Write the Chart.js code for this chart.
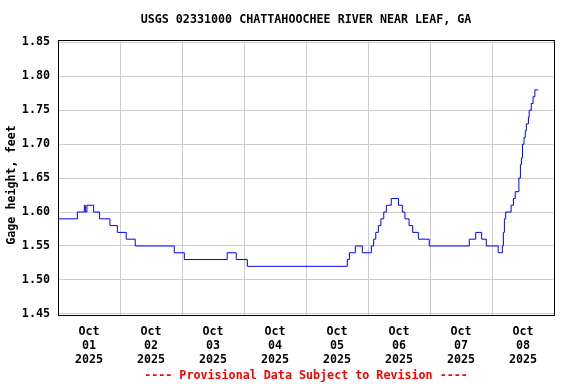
<!DOCTYPE html>
<html lang="en">

<head>
  <meta charset="UTF-8">
  <title>USGS 02331000 Chattahoochee River near Leaf, GA</title>
  <script src="https://cdn.jsdelivr.net/npm/chart.js"></script>
  <style>
    html, body { margin: 0; padding: 0; background: #fff; }
    canvas { display: block; }
  </style>
</head>

<body>
  <canvas id="gageChart" width="576" height="384"></canvas>

  <script>
    // Hours since Oct 01 2025 00:00 where the reading changes, and the new gage height (ft)
    const hours = [
      0, 7.5, 10.2, 10.6, 11.2, 13.8, 16.1, 20.1, 23.0, 26.4,
      29.9, 45.0, 48.9, 65.5, 69.0, 73.3, 112.0, 112.8, 115.1, 117.8,
      121.3, 122.2, 123.0, 124.0, 125.0, 126.1, 127.1, 129.0, 131.8, 133.3,
      134.3, 135.9, 137.3, 139.5, 143.7, 159.2, 161.7, 164.0, 165.8, 170.4,
      172.0, 172.4, 172.8, 173.3, 175.4, 176.3, 177.0, 178.4, 179.0, 179.4,
      179.8, 180.4, 180.9, 181.3, 182.1, 182.4, 183.2, 183.9, 184.6, 185.9
    ];
    const heights = [
      1.59, 1.60, 1.61, 1.60, 1.61, 1.60, 1.59, 1.58, 1.57, 1.56,
      1.55, 1.54, 1.53, 1.54, 1.53, 1.52, 1.53, 1.54, 1.55, 1.54,
      1.55, 1.56, 1.57, 1.58, 1.59, 1.60, 1.61, 1.62, 1.61, 1.60,
      1.59, 1.58, 1.57, 1.56, 1.55, 1.56, 1.57, 1.56, 1.55, 1.54,
      1.55, 1.57, 1.59, 1.60, 1.61, 1.62, 1.63, 1.65, 1.67, 1.68,
      1.70, 1.71, 1.72, 1.73, 1.74, 1.75, 1.76, 1.77, 1.78, 1.78
    ];

    // x tick labels (one per day, centred at noon)
    const monthLabel = 'Oct';
    const dayLabels = ['01', '02', '03', '04', '05', '06', '07', '08'];
    const yearLabel = '2025';

    // y axis ticks
    const yTicks = [1.45, 1.50, 1.55, 1.60, 1.65, 1.70, 1.75, 1.80, 1.85];

    const monoFont = { family: "'DejaVu Sans Mono', monospace", weight: 'bold', size: 11.7, lineHeight: 1.2 };

    // plot frame (all four sides)
    const frame = {
      id: 'frame',
      afterDraw(chart) {
        const a = chart.chartArea;
        const ctx = chart.ctx;
        ctx.save();
        ctx.strokeStyle = '#000';
        ctx.lineWidth = 1;
        ctx.strokeRect(Math.floor(a.left) + 0.5, Math.floor(a.top) + 0.5,
          Math.floor(a.right) - Math.floor(a.left), Math.floor(a.bottom) - Math.floor(a.top));
        ctx.restore();
      }
    };

    new Chart(document.getElementById('gageChart'), {
      type: 'line',
      data: {
        datasets: [{
          label: 'Gage height',
          data: hours.map((h, i) => ({ x: h, y: heights[i] })),
          borderColor: '#0000ff',
          borderWidth: 1,
          pointRadius: 0,
          stepped: 'before',
          fill: false
        }]
      },
      options: {
        responsive: false,
        animation: false,
        devicePixelRatio: 1,
        layout: { padding: { left: 0, right: 22, top: 0, bottom: 0 } },
        plugins: {
          legend: { display: false },
          tooltip: { enabled: false },
          title: {
            display: true,
            fullSize: false,
            text: 'USGS 02331000 CHATTAHOOCHEE RIVER NEAR LEAF, GA',
            color: '#000',
            font: monoFont,
            padding: { top: 13, bottom: 13 }
          },
          subtitle: {
            display: true,
            position: 'bottom',
            fullSize: false,
            text: '---- Provisional Data Subject to Revision ----',
            color: '#ff0000',
            font: monoFont,
            padding: { top: 0, bottom: 1 }
          }
        },
        scales: {
          x: {
            type: 'linear',
            min: 0,
            max: 192,
            afterFit(scale) { scale.height = 384 - 316 - 14.9; },
            border: { display: false },
            grid: {
              drawTicks: false,
              color: ctx => (ctx.tick && ctx.tick.value % 24 === 0) ? '#cccccc' : 'rgba(0,0,0,0)'
            },
            ticks: {
              stepSize: 12,
              autoSkip: false,
              maxRotation: 0,
              padding: 9,
              color: '#000',
              font: monoFont,
              callback: v => (v % 24 === 12) ? [monthLabel, dayLabels[(v - 12) / 24], yearLabel] : ''
            }
          },
          y: {
            type: 'linear',
            min: 1.447,
            max: 1.8535,
            afterFit(scale) { scale.width = 58; },
            afterBuildTicks(scale) { scale.ticks = yTicks.map(v => ({ value: v })); },
            border: { display: false },
            grid: { drawTicks: false, color: '#cccccc' },
            ticks: {
              padding: 8,
              color: '#000',
              font: monoFont,
              callback: v => v.toFixed(2)
            },
            title: {
              display: true,
              // trailing spaces nudge the rotated label down a little, as in the original
              text: 'Gage height, feet  ',
              color: '#000',
              font: monoFont,
              padding: { top: 5, bottom: 0 }
            }
          }
        }
      },
      plugins: [frame]
    });
  </script>
</body>

</html>
